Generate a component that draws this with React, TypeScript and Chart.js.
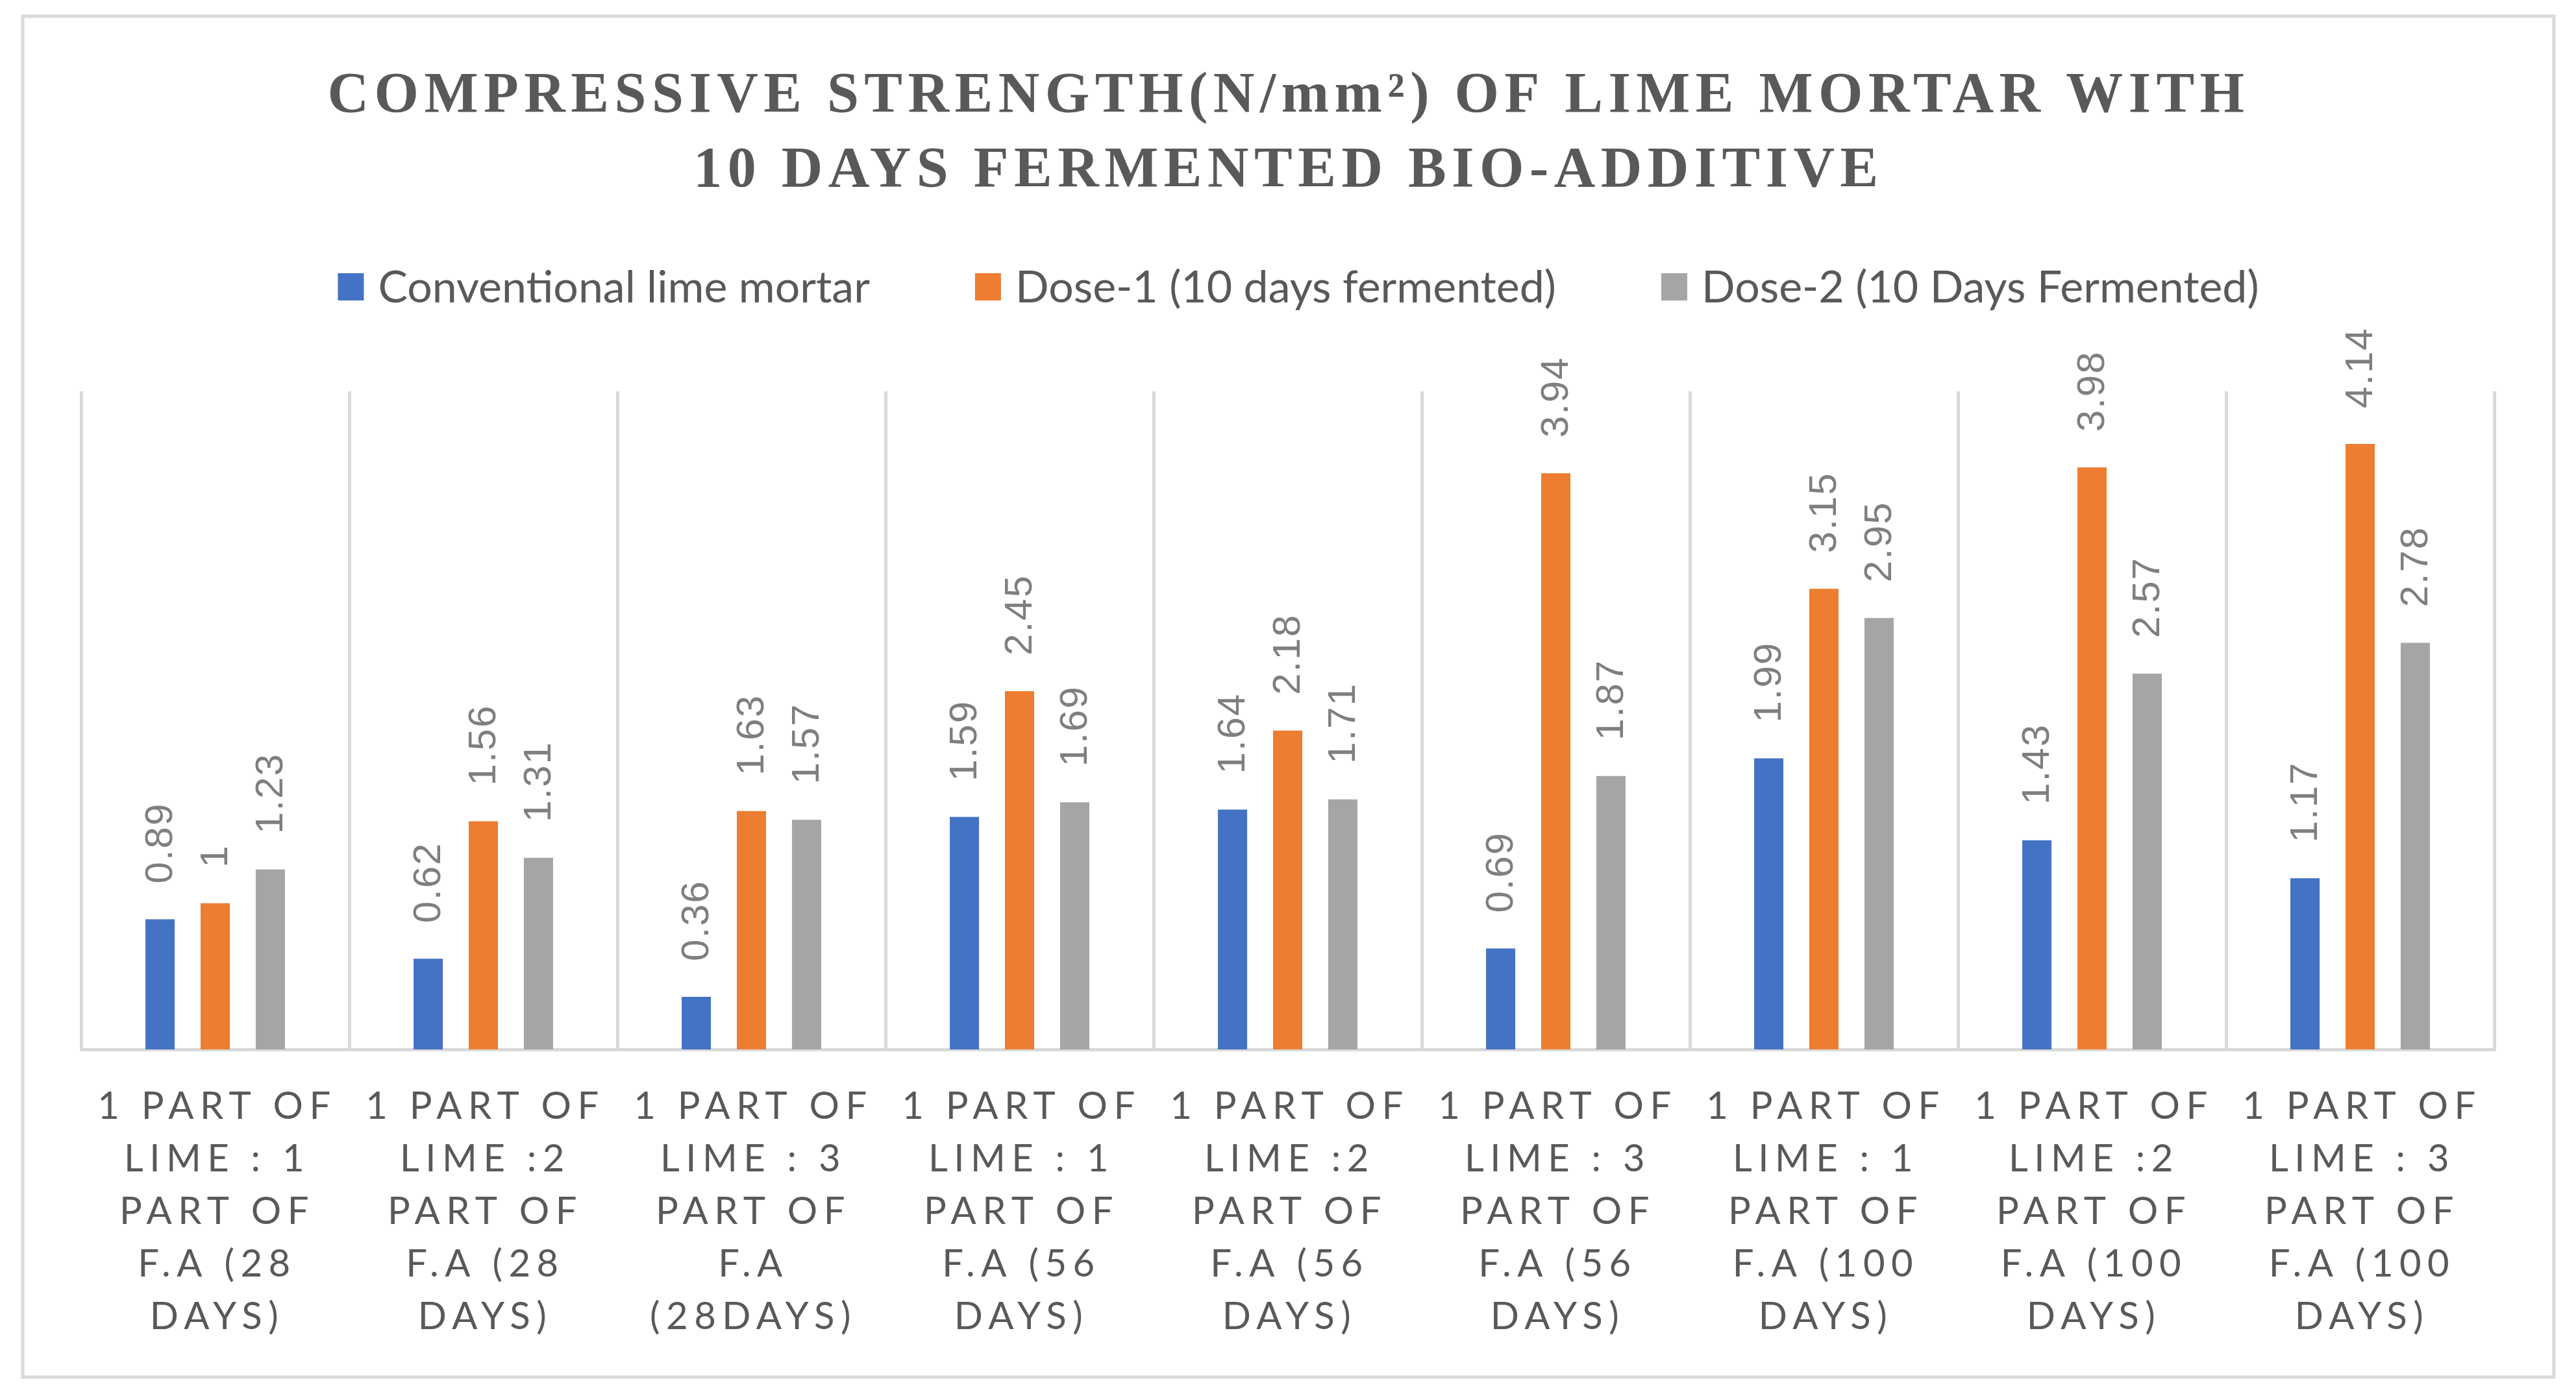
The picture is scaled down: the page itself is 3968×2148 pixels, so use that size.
import React, { useEffect, useRef } from "react";
import { Chart, registerables } from "chart.js";

Chart.register(...registerables);

const titleLines = [
  "COMPRESSIVE STRENGTH(N/mm²) OF LIME MORTAR WITH",
  "10 DAYS FERMENTED BIO-ADDITIVE",
];

const categories = [
  ["1 PART OF", "LIME : 1", "PART OF", "F.A (28", "DAYS)"],
  ["1 PART OF", "LIME :2", "PART OF", "F.A (28", "DAYS)"],
  ["1 PART OF", "LIME : 3", "PART OF", "F.A", "(28DAYS)"],
  ["1 PART OF", "LIME : 1", "PART OF", "F.A (56", "DAYS)"],
  ["1 PART OF", "LIME :2", "PART OF", "F.A (56", "DAYS)"],
  ["1 PART OF", "LIME : 3", "PART OF", "F.A (56", "DAYS)"],
  ["1 PART OF", "LIME : 1", "PART OF", "F.A (100", "DAYS)"],
  ["1 PART OF", "LIME :2", "PART OF", "F.A (100", "DAYS)"],
  ["1 PART OF", "LIME : 3", "PART OF", "F.A (100", "DAYS)"],
];

const seriesNames = [
  "Conventional lime mortar",
  "Dose-1 (10 days fermented)",
  "Dose-2 (10 Days Fermented)",
];

const conventional = [0.89, 0.62, 0.36, 1.59, 1.64, 0.69, 1.99, 1.43, 1.17];
const dose1 = [1, 1.56, 1.63, 2.45, 2.18, 3.94, 3.15, 3.98, 4.14];
const dose2 = [1.23, 1.31, 1.57, 1.69, 1.71, 1.87, 2.95, 2.57, 2.78];

const seriesColors = ["#4472C4", "#ED7D31", "#A5A5A5"];

const W = 3968;
const H = 2148;

const decorPlugin = {
  id: "decor",
  beforeDraw(chart: any) {
    const ctx = chart.ctx;
    ctx.save();
    ctx.fillStyle = "#ffffff";
    ctx.fillRect(0, 0, W, H);
    ctx.strokeStyle = "#d9d9d9";
    ctx.lineWidth = 5;
    ctx.strokeRect(35, 25, 3899, 2097);
    ctx.restore();
  },
  afterDraw(chart: any) {
    const ctx = chart.ctx;
    ctx.save();
    // Title
    ctx.fillStyle = "#595959";
    ctx.font = "bold 88px 'Liberation Serif'";
    ctx.letterSpacing = "8.5px";
    ctx.textAlign = "center";
    ctx.textBaseline = "alphabetic";
    ctx.fillText(titleLines[0], 1985, 172);
    ctx.fillText(titleLines[1], 1985, 287);

    // Legend
    ctx.letterSpacing = "0px";
    ctx.font = "68px Lato";
    ctx.textAlign = "left";
    ctx.textBaseline = "middle";
    const boxW = 40, boxH = 42, boxGap = 22, itemGap = 162;
    const widths = seriesNames.map((n) => ctx.measureText(n).width);
    const total = widths.reduce((a, b) => a + b, 0) + seriesNames.length * (boxW + boxGap) + itemGap * (seriesNames.length - 1);
    let x = 2000 - total / 2;
    const cy = 442;
    seriesNames.forEach((n, i) => {
      ctx.fillStyle = seriesColors[i];
      ctx.fillRect(x, cy - boxH / 2, boxW, boxH);
      ctx.fillStyle = "#595959";
      ctx.fillText(n, x + boxW + boxGap, cy + 2);
      x += boxW + boxGap + widths[i] + itemGap;
    });

    // Category labels
    const xs = chart.scales.x;
    ctx.font = "58px Lato";
    ctx.letterSpacing = "9.5px";
    ctx.textAlign = "center";
    ctx.textBaseline = "alphabetic";
    ctx.fillStyle = "#595959";
    categories.forEach((lines, i) => {
      const px = xs.getPixelForValue(i);
      lines.forEach((line, k) => {
        ctx.fillText(line, px + 3, 1724 + k * 81);
      });
    });

    // Data labels
    ctx.font = "60px 'Liberation Sans'";
    ctx.letterSpacing = "2px";
    ctx.fillStyle = "#7f7f7f";
    ctx.textAlign = "left";
    ctx.textBaseline = "middle";
    chart.data.datasets.forEach((ds: any, di: number) => {
      const meta = chart.getDatasetMeta(di);
      meta.data.forEach((bar: any, j: number) => {
        const v = ds.data[j];
        ctx.save();
        ctx.translate(bar.x + 2, bar.y - 55);
        ctx.rotate(-Math.PI / 2);
        ctx.fillText(String(v), 0, 0);
        ctx.restore();
      });
    });
    ctx.restore();
  },
};

export default function App() {
  const ref = useRef<HTMLCanvasElement>(null);
  useEffect(() => {
    const canvas = ref.current;
    if (!canvas) return;
    const chart = new Chart(canvas, {
      type: "bar",
      data: {
        labels: categories,
        datasets: [conventional, dose1, dose2].map((d, i) => ({
          label: seriesNames[i],
          data: d,
          backgroundColor: seriesColors[i],
          borderWidth: 0,
          categoryPercentage: 0.617,
          barPercentage: 0.53,
        })),
      },
      options: {
        responsive: false,
        maintainAspectRatio: false,
        devicePixelRatio: 1,
        animation: false,
        layout: { padding: { left: 125, right: 126, top: 603, bottom: 531 } },
        plugins: {
          legend: { display: false },
          title: { display: false },
          tooltip: { enabled: false },
        },
        scales: {
          x: {
            type: "category",
            offset: true,
            grid: { display: true, offset: true, color: "#d9d9d9", lineWidth: 5, drawTicks: false },
            border: { display: true, color: "#d9d9d9", width: 5 },
            ticks: { display: false },
          },
          y: {
            display: false,
            min: 0,
            max: 4.5,
          },
        },
      },
      plugins: [decorPlugin],
    });
    return () => chart.destroy();
  }, []);
  return (
    <div style={{ position: "fixed", left: 0, top: 0, width: W, height: H, background: "#fff" }}>
      <canvas ref={ref} width={W} height={H} style={{ width: W, height: H, display: "block" }} />
    </div>
  );
}
